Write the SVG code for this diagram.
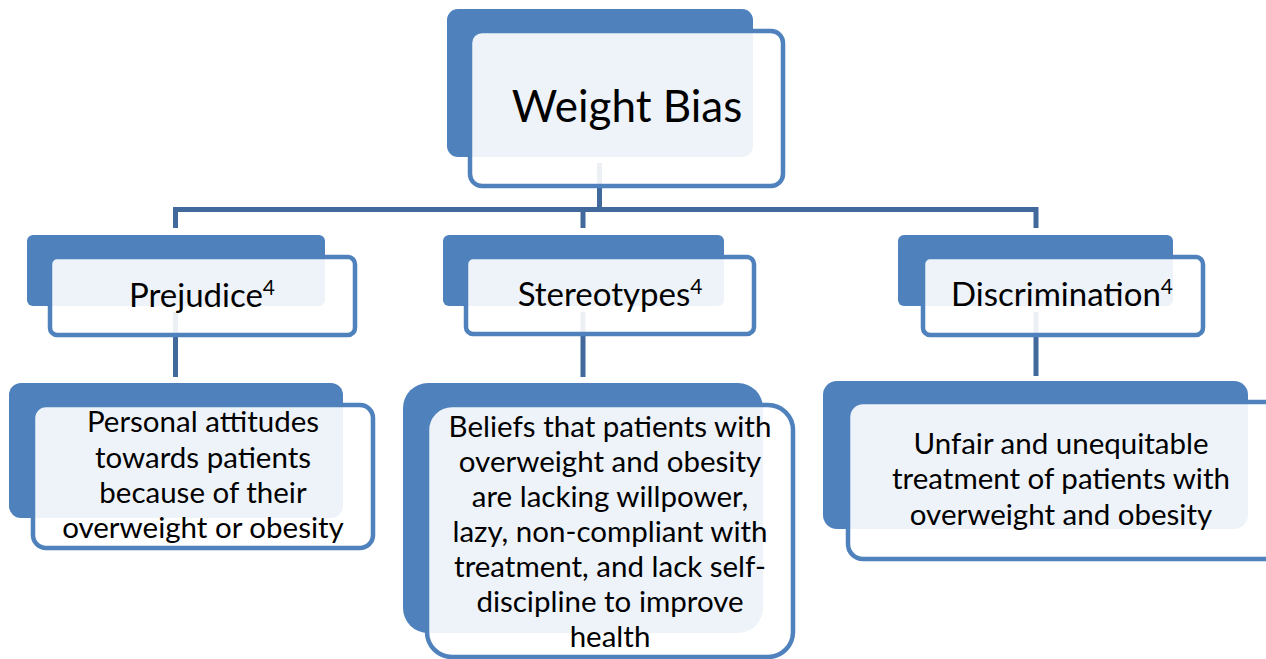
<svg xmlns="http://www.w3.org/2000/svg" width="1266" height="659" viewBox="0 0 1266 659">
<style>
.back{fill:#4F81BD}
.front{fill:#FFFFFF;fill-opacity:0.9;stroke:#4F81BD;stroke-width:4.5}
.conn{stroke:#41699B;stroke-width:5;fill:none}
text{font-family:Lato,"Open Sans","Liberation Sans",sans-serif;fill:#000;text-anchor:middle}
.t0{font-size:44px}
.t1{font-size:33px}
.t2{font-size:29.5px}
</style>
<rect width="1266" height="659" fill="#FFFFFF"/>
<g id="connectors">
<path class="conn" d="M599.5,163 V209.5 M175.5,209.5 H1036 M175.5,207 V228 M583,207 V228 M1036,207 V228"/>
<path class="conn" d="M175.5,312 V377 M583,312 V377 M1036,312 V376"/>
</g>
<g id="node-weight-bias">
<rect class="back" x="447" y="9" width="306" height="148" rx="11"/>
<rect class="front" x="470" y="31" width="313" height="155" rx="12"/>
<text class="t0" x="627" y="122">Weight Bias</text>
</g>
<g id="node-prejudice">
<rect class="back" x="27" y="235" width="298" height="71" rx="6"/>
<rect class="front" x="50" y="257" width="305" height="78" rx="7"/>
<text class="t1" x="202" y="307">Prejudice<tspan font-size="21" dy="-12">4</tspan></text>
</g>
<g id="node-stereotypes">
<rect class="back" x="443" y="235" width="281" height="71" rx="6"/>
<rect class="front" x="466" y="257" width="288" height="77" rx="7"/>
<text class="t1" x="610" y="306">Stereotypes<tspan font-size="21" dy="-12">4</tspan></text>
</g>
<g id="node-discrimination">
<rect class="back" x="898" y="235" width="275" height="71" rx="6"/>
<rect class="front" x="923" y="257" width="280" height="78" rx="7"/>
<text class="t1" x="1062" y="306">Discrimination<tspan font-size="21" dy="-12">4</tspan></text>
</g>
<g id="node-prejudice-detail">
<rect class="back" x="9" y="383" width="334" height="135" rx="12"/>
<rect class="front" x="33" y="405" width="340" height="143" rx="13"/>
<text class="t2"><tspan x="203" y="432">Personal attitudes</tspan><tspan x="203" y="467.5">towards patients</tspan><tspan x="203" y="503">because of their</tspan><tspan x="203" y="538">overweight or obesity</tspan></text>
</g>
<g id="node-stereotypes-detail">
<rect class="back" x="403" y="383" width="360" height="250" rx="25"/>
<rect class="front" x="427" y="405" width="366" height="252" rx="25"/>
<text class="t2"><tspan x="610" y="437">Beliefs that patients with</tspan><tspan x="610" y="472">overweight and obesity</tspan><tspan x="610" y="507">are lacking willpower,</tspan><tspan x="610" y="542">lazy, non-compliant with</tspan><tspan x="610" y="577">treatment, and lack self-</tspan><tspan x="610" y="612">discipline to improve</tspan><tspan x="610" y="647">health</tspan></text>
</g>
<g id="node-discrimination-detail">
<rect class="back" x="823" y="381" width="425" height="148" rx="14"/>
<rect class="front" x="848" y="402" width="440" height="157" rx="15"/>
<text class="t2"><tspan x="1061" y="453.5">Unfair and unequitable</tspan><tspan x="1061" y="489">treatment of patients with</tspan><tspan x="1061" y="524.5">overweight and obesity</tspan></text>
</g>
</svg>
